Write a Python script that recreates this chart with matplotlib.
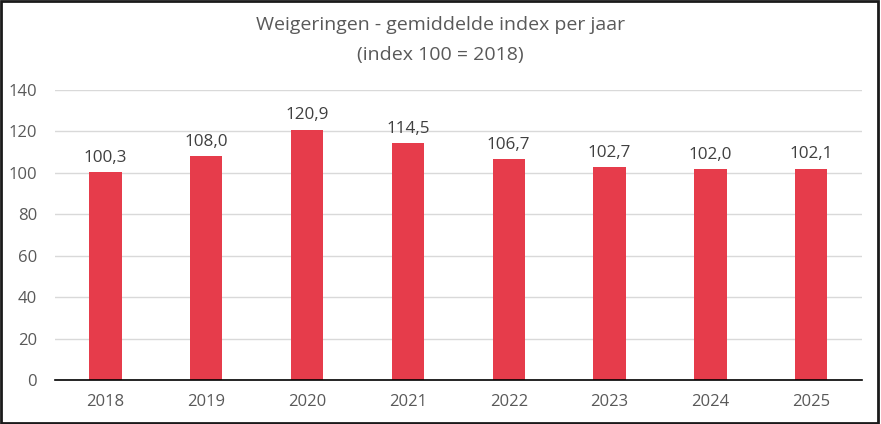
import matplotlib.pyplot as plt
from matplotlib.patches import Rectangle

plt.rcParams['font.family'] = ['Open Sans', 'DejaVu Sans']

years = ["2018", "2019", "2020", "2021", "2022", "2023", "2024", "2025"]
index_values = [100.3, 108.0, 120.9, 114.5, 106.7, 102.7, 102.0, 102.1]
y_ticks = [0, 20, 40, 60, 80, 100, 120, 140]

text_color = '#595959'
bar_color = '#E63C4B'

fig = plt.figure(figsize=(8.81, 4.24), dpi=100)
ax = fig.add_axes([0.0624, 0.1038, 0.9156, 0.6839])

x = range(len(years))
bars = ax.bar(x, index_values, width=0.32, color=bar_color, zorder=3)
for xi, v in zip(x, index_values):
    ax.text(xi, v + 3, f"{v:.1f}".replace('.', ','), ha='center', va='bottom',
            fontsize=12.3, color='#404040')

ax.set_xlim(-0.5, len(years) - 0.5)
ax.set_ylim(0, 140)
ax.set_yticks(y_ticks)
ax.set_xticks(list(x))
ax.set_xticklabels(years)
ax.tick_params(axis='both', length=0, labelsize=12, colors=text_color)
ax.tick_params(axis='x', pad=10)
ax.tick_params(axis='y', pad=13)
ax.grid(axis='y', color='#D9D9D9', linewidth=1, zorder=0)
for side in ['top', 'right', 'left']:
    ax.spines[side].set_visible(False)
ax.spines['bottom'].set_color('black')
ax.spines['bottom'].set_linewidth(1.2)
ax.spines['bottom'].set_zorder(4)

fig.text(0.5, 0.905, "Weigeringen - gemiddelde index per jaar\n(index 100 = 2018)",
         ha='center', va='center', fontsize=14, color=text_color, linespacing=1.85)

fig.patches.append(Rectangle((0.001, 0.002), 0.996, 0.995, transform=fig.transFigure,
                             fill=False, edgecolor='#1a1a1a', linewidth=2))

fig.savefig('out.png', dpi=100)
